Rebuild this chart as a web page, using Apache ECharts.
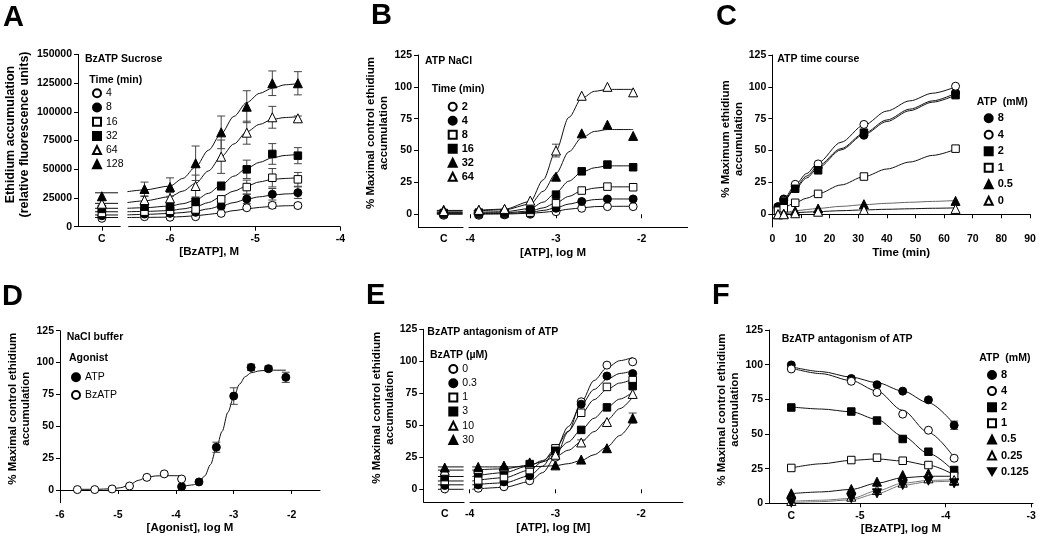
<!DOCTYPE html>
<html><head><meta charset="utf-8">
<script src="https://cdn.jsdelivr.net/npm/echarts@6/dist/echarts.min.js"></script>
<style>html,body{margin:0;padding:0;background:#fff}#c{width:1039px;height:538px}</style>
</head><body><div id="c"></div>
<script>
// ---------------- DATA ----------------
// Panel A : BzATP Sucrose (relative fluorescence units)
const aNames = ['4','8','16','32','64','128'];
const aX = [-6.3,-6.0,-5.7,-5.4,-5.1,-4.8,-4.5];
const aCtrlX = -6.8;
const aCtrl = [7300, 9500, 12000, 15500, 20000, 26500];
const aY4   = [8700, 8200, 8700, 11600, 16500, 18600, 18400];
const aY8   = [11000, 11600, 12500, 18000, 24100, 28200, 29600];
const aY16  = [13100, 13900, 15000, 23800, 34500, 42600, 41200];
const aY32  = [17400, 17400, 21800, 35400, 49900, 63300, 61800];
const aY64  = [23200, 24700, 35400, 60900, 81800, 95200, 94300];
const aY128 = [32800, 34500, 55200, 82100, 104400, 124800, 124800];
const aE4   = [0, 0, 0, 0, 0, 2500, 2000];
const aE8   = [0, 0, 0, 2500, 4000, 5000, 5000];
const aE16  = [0, 0, 2500, 2500, 6000, 8000, 6000];
const aE32  = [0, 2500, 3000, 3500, 8000, 9000, 7000];
const aE64  = [3000, 5000, 9500, 14500, 10000, 9500, 2000];
const aE128 = [6000, 8000, 15000, 14200, 13900, 10700, 10100];
const aFitX = [-6.5,-6.3,-6.0,-5.85,-5.7,-5.55,-5.4,-5.25,-5.1,-4.95,-4.8,-4.65,-4.5];
const aFit4   = [8000, 8100, 8300, 8800, 9500, 10700, 12000, 14000, 15500, 16800, 17700, 18200, 18500];
const aFit8   = [10300, 10700, 11500, 12300, 13500, 15500, 18000, 21000, 24000, 26000, 27500, 28500, 29000];
const aFit16  = [13000, 13300, 14000, 15500, 17400, 21000, 26100, 31000, 35400, 39000, 41200, 42000, 42600];
const aFit32  = [16000, 16500, 18000, 20000, 23200, 29000, 36300, 44000, 50800, 56000, 60000, 62000, 63000];
const aFit64  = [21000, 22500, 26100, 31000, 37700, 48500, 60900, 72000, 82600, 89000, 93400, 95000, 95700];
const aFit128 = [30500, 32000, 35400, 42000, 52000, 66500, 81000, 96000, 108000, 116000, 120500, 123500, 124500];
const aCtrlFitX = [-6.88, -6.61];
const aCtrlFit = [8000, 10200, 13000, 16000, 20300, 29500];
const aBreak = [-6.58, -6.49];
const aTicksX = [-6.8, -6, -5, -4];

// Panel B : ATP NaCl
const bNames = ['2','4','8','16','32','64'];
const bX = [-3.9,-3.6,-3.3,-3.0,-2.7,-2.4,-2.1];
const bCtrlX = -4.31;
const bCtrl = [-0.8, 0, 0.3, 1, 3.5, 2.5];
const bY2  = [-0.8, -0.5, 0, 2, 4.7, 6, 6];
const bY4  = [0, 0.2, 0.6, 4.7, 10, 12, 12];
const bY8  = [0.3, 0.3, 1.3, 8.6, 18.6, 21.7, 21.2];
const bY16 = [1.3, 1, 3.4, 15.4, 33.7, 39, 36.9];
const bY32 = [3.4, 4, 7.3, 29.5, 63.5, 70.3, 61.5];
const bY64 = [3.4, 4.2, 10.7, 50, 93, 100, 95.7];
const bE64 = [0, 0, 0, 5, 0, 0, 0];
const bFitX = [-3.96,-3.6,-3.3,-3.15,-3.0,-2.85,-2.7,-2.55,-2.4,-2.1];
const bFit2  = [0, 0.2, 0.7, 1.5, 2.5, 4, 5, 6, 6.2, 6.3];
const bFit4  = [0.5, 0.6, 1.5, 3, 5, 8, 10, 11.5, 12, 12];
const bFit8  = [1, 1.2, 2.5, 5, 9, 14, 18.5, 20.5, 21.5, 21.5];
const bFit16 = [1.5, 2, 4.5, 9.5, 17, 26, 33, 36.5, 38, 38];
const bFit32 = [2.5, 3.5, 8, 18, 32, 49, 60, 65, 66.5, 66.5];
const bFit64 = [3, 4, 10, 27, 50, 76, 91, 96.5, 98, 98];
const bCtrlFitX = [-4.39, -4.09];
const bCtrlFit = [0, 0.5, 1, 1.5, 2.5, 3];
const bBreak = [-4.08, -4.02];
const bTicksX = [-4.31, -4, -3, -2];

// Panel C : ATP time course
const cNames = ['8','4','2','1','0.5','0'];
const cX = [2, 4, 8, 16, 32, 64];
const cY8  = [6, 12, 22, 36.5, 62, 95.5];
const cY4  = [5, 11, 23.5, 39.5, 70.5, 100.5];
const cY2  = [5, 10, 20, 34.5, 64, 93.5];
const cY1  = [2.8, 4.7, 9, 16, 29.6, 51.5];
const cY05 = [0, 0.5, 2.6, 4.5, 7.9, 10.5];
const cY0  = [0, 0, 0.8, 2, 3.4, 4.2];
const cFitX = [1, 2, 4, 8, 12, 16, 24, 32, 40, 48, 56, 64];
const cFit8  = [2.5, 5.2, 10.8, 21, 30, 38, 51.5, 63.5, 74, 82.5, 89, 95];
const cFit4  = [3, 5.8, 11.8, 23, 32, 40.5, 56.5, 70, 81, 89, 95, 100];
const cFit2  = [2.5, 5, 10.3, 20, 28.5, 36.5, 50.5, 62.5, 72.8, 81.3, 88, 93.5];
const cFit1  = [1.8, 3, 5.3, 9, 12.6, 16.1, 23, 29.5, 35.5, 41, 46.2, 51];
const cFit05 = [0.3, 0.7, 1.4, 2.6, 3.7, 4.6, 6.2, 7.5, 8.6, 9.4, 10.1, 10.8];
const cFit0  = [0.1, 0.3, 0.6, 1.2, 1.7, 2.1, 2.8, 3.4, 3.9, 4.3, 4.7, 5];

// Panel D : NaCl buffer
const dNames = ['ATP', 'BzATP'];
const dAtpX = [-3.9,-3.6,-3.3,-3.0,-2.7,-2.4,-2.1];
const dAtpY = [2.6, 6.3, 33.5, 73.7, 96.2, 95.2, 88.4];
const dAtpE = [0, 0, 4, 6.5, 2.5, 2, 4];
const dBzX = [-5.7,-5.4,-5.1,-4.8,-4.5,-4.2,-3.9];
const dBzY = [0.3, 0.3, 0.8, 3.1, 9.9, 12.6, 8.6];
const dAtpFitX = [-3.9,-3.7,-3.6,-3.5,-3.4,-3.3,-3.2,-3.1,-3.0,-2.9,-2.8,-2.7,-2.55,-2.4,-2.1];
const dAtpFit  = [2.5, 4, 6, 11, 20, 33, 46, 61, 73, 83, 89, 92, 93.5, 94, 94];
const dBzFitX = [-5.7,-5.4,-5.1,-4.95,-4.8,-4.65,-4.5,-4.35,-4.2,-3.9];
const dBzFit  = [0.5, 0.5, 0.9, 1.8, 4, 7.5, 10, 11, 11.2, 11.2];
const dTicksX = [-6, -5, -4, -3, -2];

// Panel E : BzATP antagonism of ATP
const eNames = ['0','0.3','1','3','10','30'];
const eX = [-3.9,-3.6,-3.3,-3.0,-2.7,-2.4,-2.1];
const eCtrlX = -4.29;
const eCtrl = [0.3, 3, 6.5, 9.5, 14.5, 17];
const eY0  = [0.8, 2, 6.7, 25, 68.4, 97, 99.6];
const eY03 = [3.4, 5.8, 10.5, 30.8, 66.5, 88.5, 90.4];
const eY1  = [7, 9.5, 15, 32, 59.8, 80, 85.3];
const eY3  = [12.5, 14.7, 19.7, 30.1, 46.4, 64, 80.6];
const eY10 = [16, 17.7, 20, 27, 36.6, 52.6, 74.5];
const eY30 = [17.5, 18.5, 21, 18.7, 23.2, 32.1, 55.6];
const eE10 = [0, 0, 0, 0, 2, 0, 0];
const eE30 = [0, 0, 0, 0, 0, 0, 4];
const eFitX = [-3.97,-3.6,-3.3,-3.15,-3.0,-2.85,-2.7,-2.55,-2.4,-2.25,-2.1];
const eFit0  = [0, 1.5, 6, 13, 25, 45, 68, 85, 95, 100.5, 103];
const eFit03 = [3.5, 5, 10.5, 18, 31, 49, 66, 78, 86, 90.5, 92.5];
const eFit1  = [6.5, 9, 15, 21.5, 32, 45.5, 59, 70, 78, 83, 86];
const eFit3  = [10, 13, 18.5, 22.5, 29, 37, 46.5, 55.5, 64, 70.5, 76];
const eFit10 = [15, 16, 19, 21.5, 25.5, 30.5, 37, 45, 54, 63, 72];
const eFit30 = [17.5, 17.5, 17.7, 17.9, 18.5, 20, 22.5, 27, 33, 42, 54];
const eCtrlFitX = [-4.37, -4.07];
const eCtrlFit = [0, 3.5, 6.5, 10, 15, 17.5];
const eBreak = [-4.06, -4.0];
const eTicksX = [-4.29, -4, -3, -2];

// Panel F : BzATP antagonism of ATP
const fNames = ['8','4','2','1','0.5','0.25','0.125'];
const fX = [-5.8,-5.1,-4.8,-4.5,-4.2,-3.9];
const fY8    = [99.8, 90, 85.5, 80.9, 74.6, 56.3];
const fY4    = [96.9, 88, 80, 64.3, 52.7, 32.5];
const fY2    = [69.1, 66.2, 59.7, 46.4, 37.2, 24];
const fY1    = [25.5, 31.2, 32.9, 30.7, 27.6, 19.7];
const fY05   = [7.2, 10.3, 15.6, 20.4, 21.6, 16.3];
const fY025  = [1.7, 4.8, 9.6, 14.9, 18, 16.8];
const fY0125 = [0.5, 3.6, 7.2, 13.2, 16.3, 14.4];
const fE8 = [0, 0, 0, 0, 0, 3];
const fFitX = [-5.8,-5.45,-5.1,-4.8,-4.5,-4.2,-3.9];
const fFit8    = [98.5, 95, 91, 87, 81, 72.5, 57];
const fFit4    = [97.5, 93.5, 88.5, 81, 67, 51, 33];
const fFit2    = [69.5, 68, 66, 60.5, 48.5, 36, 23];
const fFit1    = [25.5, 28.5, 31, 32, 30.5, 27.5, 20.5];
const fFit05   = [7, 8.2, 10, 14.5, 18.5, 19.5, 19.5];
const fFit025  = [1.5, 2.2, 3.5, 9, 14.5, 16.5, 17];
const fFit0125 = [0.5, 1.2, 2.5, 7, 13, 15.5, 16];
const fTicksX = [-5.8, -5, -4, -3];

const pctTicks = [0, 25, 50, 75, 100, 125];

// ---------------- STYLE ----------------
const FONT = "'Liberation Sans', Arial, Helvetica, sans-serif";
const SYM = {
  oc: {symbol: 'circle', size: 8, fill: '#fff'},
  fc: {symbol: 'circle', size: 8, fill: '#000'},
  os: {symbol: 'rect', size: 7.5, fill: '#fff'},
  fs: {symbol: 'rect', size: 7.5, fill: '#000'},
  ot: {symbol: 'triangle', size: 9, fill: '#fff'},
  ft: {symbol: 'triangle', size: 9, fill: '#000'},
  fd: {symbol: 'triangle', size: 9, fill: '#000', rotate: 180, icon: 'path://M0,0L10,0L5,8.66Z'}
};

const series = [];
const legends = [];
const titles = [];

function txt(text, left, cy, size, weight) {
  titles.push({text, left, top: cy - size / 2 - 1, padding: 0,
    textStyle: {fontFamily: FONT, fontSize: size, fontWeight: weight || 'bold', color: '#000', lineHeight: size}});
}

// build one panel from its arrays
function panel(g, id, P) {
  const n = P.names.length;
  const errData = [];
  for (let i = 0; i < n; i++) {
    const nm = id + '|' + P.names[i];
    const xs = P.xs[i], ys = P.ys[i];
    const pts = [];
    if (P.ctrlX != null && P.ctrl) pts.push([P.ctrlX, P.ctrl[i]]);
    xs.forEach((x, j) => pts.push([x, ys[j]]));
    const s = SYM[P.syms[i]];
    const lc = (P.lineColors && P.lineColors[i]) || '#111';
    series.push({type: 'line', name: nm + '|fit', xAxisIndex: g, yAxisIndex: g, silent: true,
      data: P.fitXs[i].map((x, j) => [x, P.fits[i][j]]), smooth: 0.3, smoothMonotone: 'x',
      showSymbol: false, symbol: 'none', z: 2, lineStyle: {color: lc, width: 1}});
    if (P.ctrlFitX) {
      series.push({type: 'line', name: nm + '|cfit', xAxisIndex: g, yAxisIndex: g, silent: true,
        data: P.ctrlFitX.map(x => [x, P.ctrlFit[i]]), showSymbol: false, symbol: 'none', z: 2,
        lineStyle: {color: lc, width: 1}});
    }
    if (P.errs && P.errs[i]) {
      P.errs[i].forEach((e, j) => { if (e > 0) errData.push([xs[j], ys[j] - e, ys[j] + e]); });
    }
    series.push({type: 'scatter', name: nm, xAxisIndex: g, yAxisIndex: g, data: pts,
      symbol: s.symbol, symbolSize: s.size, symbolRotate: s.rotate || 0, z: 5,
      itemStyle: {color: s.fill, borderColor: '#000', borderWidth: 1, opacity: 1}});
  }
  if (errData.length) {
    series.push({type: 'custom', name: id + '|err', xAxisIndex: g, yAxisIndex: g, silent: true, z: 3,
      encode: {x: 0, y: [1, 2]}, data: errData,
      renderItem: (params, api) => {
        const x = api.value(0);
        const p1 = api.coord([x, api.value(1)]), p2 = api.coord([x, api.value(2)]);
        const w = 4, st = {stroke: '#444', lineWidth: 1};
        return {type: 'group', children: [
          {type: 'line', shape: {x1: p1[0], y1: p1[1], x2: p2[0], y2: p2[1]}, style: st},
          {type: 'line', shape: {x1: p1[0] - w, y1: p1[1], x2: p1[0] + w, y2: p1[1]}, style: st},
          {type: 'line', shape: {x1: p2[0] - w, y1: p2[1], x2: p2[0] + w, y2: p2[1]}, style: st}
        ]};
      }});
  }
  if (P.brk) {
    series.push({type: 'line', name: id + '|axis', xAxisIndex: g, yAxisIndex: g, data: [], silent: true,
      markLine: {silent: true, symbol: ['none', 'none'], label: {show: false}, animation: false,
        lineStyle: {color: '#000', width: 1, type: 'solid'}, emphasis: {disabled: true},
        data: [
          [{coord: [P.xMin, P.yMin]}, {coord: [P.brk[0], P.yMin]}],
          [{coord: [P.brk[1], P.yMin]}, {coord: [P.xMax, P.yMin]}]
        ]}});
  }
  legends.push(Object.assign({
    data: P.names.map((nm, i) => {
      const s = SYM[P.syms[i]];
      return s.icon ? {name: id + '|' + nm, icon: s.icon} : id + '|' + nm;
    }),
    orient: 'vertical', padding: 0,
    itemWidth: 8, itemHeight: 8, selectedMode: false,
    formatter: nm => nm.split('|')[1],
    textStyle: {fontFamily: FONT, fontSize: P.legFont || 10.5, fontWeight: P.legWeight || 'normal', color: '#000', lineHeight: 12}
  }, P.legend));
}

// ---------------- PANELS ----------------
panel(0, 'A', {names: aNames, syms: ['oc','fc','os','fs','ot','ft'],
  xs: aNames.map(() => aX), ys: [aY4, aY8, aY16, aY32, aY64, aY128],
  errs: [aE4, aE8, aE16, aE32, aE64, aE128], ctrlX: aCtrlX, ctrl: aCtrl,
  fitXs: aNames.map(() => aFitX), fits: [aFit4, aFit8, aFit16, aFit32, aFit64, aFit128],
  ctrlFitX: aCtrlFitX, ctrlFit: aCtrlFit, brk: aBreak, xMin: -7.08, xMax: -4, yMin: 0,
  legend: {left: 92, top: 87.3, itemGap: 2.2}});

panel(1, 'B', {names: bNames, syms: ['oc','fc','os','fs','ft','ot'],
  xs: bNames.map(() => bX), ys: [bY2, bY4, bY8, bY16, bY32, bY64],
  errs: [null, null, null, null, null, bE64], ctrlX: bCtrlX, ctrl: bCtrl,
  fitXs: bNames.map(() => bFitX), fits: [bFit2, bFit4, bFit8, bFit16, bFit32, bFit64],
  ctrlFitX: bCtrlFitX, ctrlFit: bCtrlFit, brk: bBreak, xMin: -4.61, xMax: -1.46, yMin: -10,
  legWeight: 'bold', legFont: 11,
  legend: {left: 447.7, top: 100.7, itemGap: 2}});

panel(2, 'C', {names: cNames, syms: ['fc','oc','fs','os','ft','ot'],
  xs: cNames.map(() => cX), ys: [cY8, cY4, cY2, cY1, cY05, cY0],
  fitXs: cNames.map(() => cFitX), fits: [cFit8, cFit4, cFit2, cFit1, cFit05, cFit0],
  lineColors: ['#111','#111','#111','#111','#666','#111'],
  legWeight: 'bold', legFont: 11,
  legend: {left: 983.7, top: 112.3, itemGap: 4.5}});

panel(3, 'D', {names: dNames, syms: ['fc','oc'],
  xs: [dAtpX, dBzX], ys: [dAtpY, dBzY], errs: [dAtpE, null],
  fitXs: [dAtpFitX, dBzFitX], fits: [dAtpFit, dBzFit],
  legend: {left: 71, top: 371.3, itemGap: 5.7}});

panel(4, 'E', {names: eNames, syms: ['oc','fc','os','fs','ot','ft'],
  xs: eNames.map(() => eX), ys: [eY0, eY03, eY1, eY3, eY10, eY30],
  errs: [null, null, null, null, eE10, eE30], ctrlX: eCtrlX, ctrl: eCtrl,
  fitXs: eNames.map(() => eFitX), fits: [eFit0, eFit03, eFit1, eFit3, eFit10, eFit30],
  ctrlFitX: eCtrlFitX, ctrlFit: eCtrlFit, brk: eBreak, xMin: -4.54, xMax: -1.51, yMin: -10,
  legend: {left: 448.3, top: 363, itemGap: 2.2}});

panel(5, 'F', {names: fNames, syms: ['fc','oc','fs','os','ft','ot','fd'],
  xs: fNames.map(() => fX), ys: [fY8, fY4, fY2, fY1, fY05, fY025, fY0125],
  errs: [fE8, null, null, null, null, null, null],
  fitXs: fNames.map(() => fFitX), fits: [fFit8, fFit4, fFit2, fFit1, fFit05, fFit025, fFit0125],
  lineColors: ['#111','#111','#111','#111','#111','#777','#777'],
  legWeight: 'bold', legFont: 11,
  legend: {left: 987, top: 369, itemGap: 4.1}});

// panel letters
[['A', 3, 3], ['B', 371, 1], ['C', 716, 2], ['D', 2, 282], ['E', 366, 281], ['F', 712, 281]].forEach(([t, l, tp]) =>
  titles.push({text: t, left: l, top: tp, padding: 0,
    textStyle: {fontFamily: FONT, fontSize: 29, fontWeight: 'bold', color: '#000'}}));

// in-plot texts
txt('BzATP Sucrose', 85, 59.7, 10.5);
txt('Time (min)', 89.3, 80.7, 10.5);
txt('ATP NaCl', 425, 61.7, 10.5);
txt('Time (min)', 431.7, 90, 10.5);
txt('ATP time course', 777.3, 60, 10.5);
txt('ATP  (mM)', 976.7, 102.7, 10.5);
txt('NaCl buffer', 66.7, 338.3, 10.5);
txt('Agonist', 69, 359.3, 10.5);
txt('BzATP antagonism of ATP', 427.3, 333.3, 10.5);
txt('BzATP (\u00b5M)', 430, 356, 10.5);
txt('BzATP antagonism of ATP', 781.7, 340, 10.5);
txt('ATP  (mM)', 979.3, 359.3, 10.5);

// ---------------- AXES ----------------
const lab = {fontFamily: FONT, fontSize: 10.5, fontWeight: 'bold', color: '#000'};
const nameSt = (fs, shift) => ({fontFamily: FONT, fontSize: fs, fontWeight: 'bold', color: '#000',
  lineHeight: fs + 1.5, padding: [0, 0, 0, shift || 0]});
const axLine = {show: true, lineStyle: {color: '#000', width: 1}};
const tick = {show: true, length: 4, lineStyle: {color: '#000', width: 1}};

function xAx(g, min, max, ticks, cVal, name, showLine) {
  return {type: 'value', gridIndex: g, min, max, name, nameLocation: 'middle', nameGap: 18,
    nameTextStyle: nameSt(11.5),
    axisLine: Object.assign({}, axLine, {show: showLine}),
    axisTick: Object.assign({}, tick, {customValues: ticks}),
    axisLabel: Object.assign({}, lab, {customValues: ticks, margin: 7,
      formatter: v => (cVal != null && Math.abs(v - cVal) < 1e-6) ? 'C' : String(v)}),
    splitLine: {show: false}};
}
function xAxC(g) {
  return {type: 'value', gridIndex: g, min: 0, max: 90, interval: 10, name: 'Time (min)', nameLocation: 'middle', nameGap: 18,
    nameTextStyle: nameSt(11.5), axisLine: axLine, axisTick: tick,
    axisLabel: Object.assign({}, lab, {margin: 7}), splitLine: {show: false}};
}
function yPct(g, min, name, gap, shift) {
  const o = {type: 'value', gridIndex: g, min, max: 125, name, nameLocation: 'middle', nameGap: gap,
    nameTextStyle: nameSt(11.5, shift), axisLine: axLine, splitLine: {show: false}};
  if (min === 0) {
    o.interval = 25;
    o.axisTick = tick; o.axisLabel = Object.assign({}, lab, {margin: 6});
  } else {
    o.axisTick = Object.assign({}, tick, {customValues: pctTicks});
    o.axisLabel = Object.assign({}, lab, {margin: 6, customValues: pctTicks});
  }
  return o;
}
const pctName = '% Maximal control ethidium\naccumulation';

const option = {
  animation: false,
  backgroundColor: '#fff',
  textStyle: {fontFamily: FONT},
  title: titles,
  legend: legends,
  grid: [
    {left: 78, top: 54.3, width: 262.5, height: 172.4},
    {left: 418, top: 55, width: 270, height: 172},
    {left: 772.3, top: 55, width: 257.7, height: 172},
    {left: 60, top: 330.7, width: 260, height: 172},
    {left: 423.3, top: 329.3, width: 260, height: 172.8},
    {left: 769, top: 330, width: 264, height: 173.3}
  ],
  xAxis: [
    xAx(0, -7.08, -4, aTicksX, aCtrlX, '[BzATP], M', false),
    xAx(1, -4.61, -1.46, bTicksX, bCtrlX, '[ATP], log M', false),
    xAxC(2),
    xAx(3, -6, -1.51, dTicksX, null, '[Agonist], log M', true),
    xAx(4, -4.54, -1.51, eTicksX, eCtrlX, '[ATP], log [M]', false),
    xAx(5, -6.06, -2.98, fTicksX, -5.8, '[BzATP], log M', true)
  ],
  yAxis: [
    {type: 'value', gridIndex: 0, min: 0, max: 150000, interval: 25000,
      name: 'Ethidium accumulation\n(relative fluorescence units)', nameLocation: 'middle', nameGap: 46,
      nameTextStyle: nameSt(12.5, 12), axisLine: axLine, axisTick: tick,
      axisLabel: Object.assign({}, lab, {margin: 6, formatter: v => String(v)}), splitLine: {show: false}},
    yPct(1, -10, pctName, 18, 16),
    yPct(2, -10, '% Maximum ethidium\naccumulation', 27, 4),
    yPct(3, -10, pctName, 27, 16),
    yPct(4, -10, pctName, 23, 16),
    yPct(5, 0, pctName, 24, 14)
  ],
  series
};

const chart = echarts.init(document.getElementById('c'), null, {renderer: 'canvas', width: 1039, height: 538});
chart.setOption(option);
</script>
</body></html>
